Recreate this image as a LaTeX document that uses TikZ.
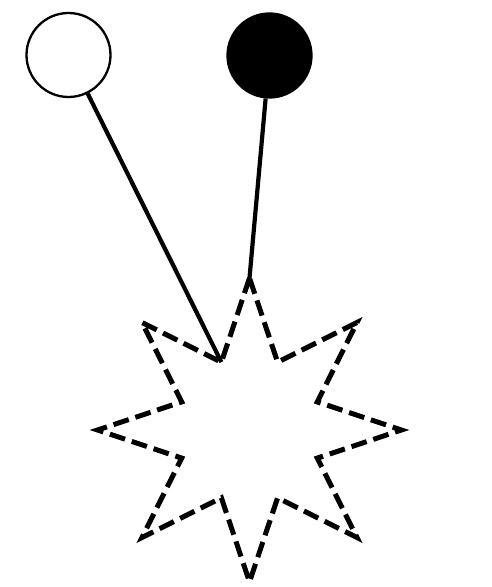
\documentclass[tikz,border=0pt]{standalone}
\usepackage{tikz}
\usetikzlibrary{shapes.geometric}
\tikzset{
    ball/.style={
        circle, draw=black, line width=2.3pt,
        minimum size=84pt, inner sep=0pt
    },
    open-ball/.style={ball, fill=white},
    full-ball/.style={ball, fill=black},
    burst/.style={
        star, star points=8, star point ratio=2.07,
        draw=black, line width=5pt, dash pattern=on 16pt off 7pt,
        line join=miter, minimum size=304pt, inner sep=0pt, outer sep=0pt
    },
    stick/.style={line width=4.2pt, draw=black},
}

\begin{document}
\begin{tikzpicture}[x=1pt, y=1pt]
\useasboundingbox (0,0) rectangle (492,587);

% ---- balls ----
\node[open-ball] (open) at (68.5,532) {};
\node[full-ball] (full) at (269.5,531.5) {};

% ---- burst ----
\node[burst] (hit) at (249.5,157) {};

% ---- sticks ----
\draw[stick] (open) -- (hit.inner point 1);
\draw[stick] (full) -- (hit.outer point 1);

\end{tikzpicture}
\end{document}
